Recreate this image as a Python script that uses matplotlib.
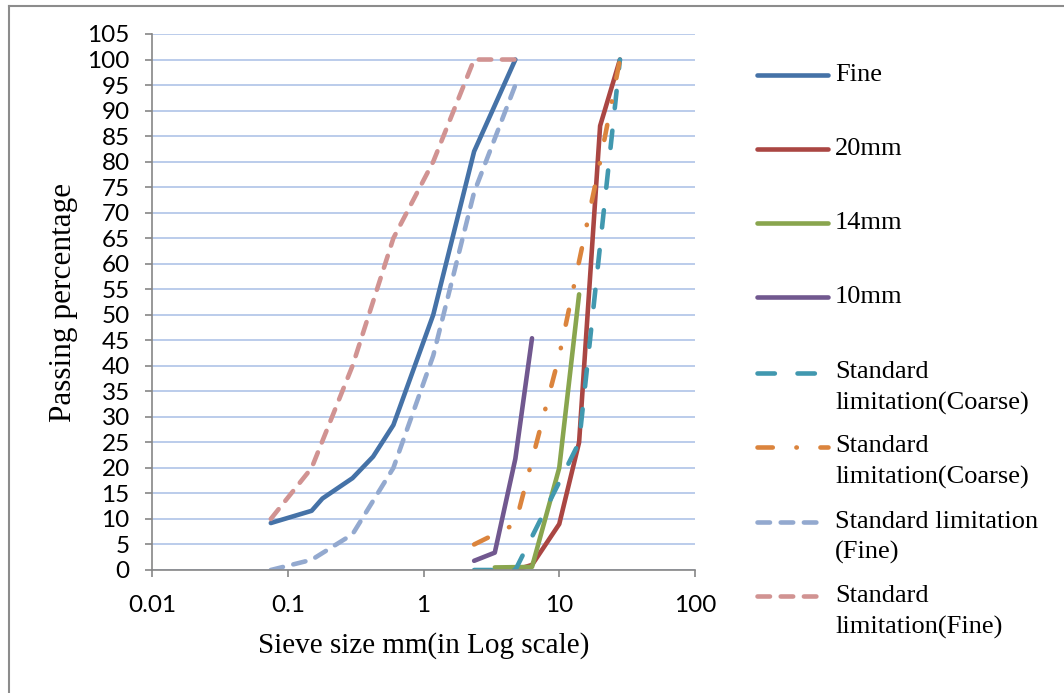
import matplotlib
matplotlib.use("Agg")
import matplotlib.pyplot as plt
import matplotlib.ticker as mticker
from matplotlib.lines import Line2D

# Sieve analysis results (sieve size in mm, % passing)
fine_size = [0.075, 0.15, 0.18, 0.3, 0.425, 0.6, 1.18, 2.36, 4.75]
fine_pass = [9.2, 11.6, 14.0, 18.0, 22.2, 28.4, 50.0, 82.0, 100.0]

agg20_size = [4.75, 6.3, 10, 14, 20, 28]
agg20_pass = [0.0, 1.0, 9.0, 25.0, 87.0, 100.0]

agg14_size = [3.35, 6.3, 10, 14]
agg14_pass = [0.5, 0.6, 20.0, 54.0]

agg10_size = [2.36, 3.35, 4.75, 6.3]
agg10_pass = [1.8, 3.4, 21.8, 45.4]

# Grading envelopes
coarse_low_size = [2.36, 4.75, 14, 28]
coarse_low_pass = [0.0, 0.0, 25.0, 100.0]

coarse_up_size = [2.36, 4.75, 10, 20, 28]
coarse_up_pass = [5.0, 9.0, 42.0, 80.0, 100.0]

fine_low_size = [0.075, 0.15, 0.3, 0.6, 1.18, 2.36, 4.75]
fine_low_pass = [0.0, 2.0, 7.0, 20.0, 42.0, 74.0, 95.0]

fine_up_size = [0.075, 0.15, 0.3, 0.6, 1.18, 2.36, 4.75]
fine_up_pass = [10.0, 20.0, 40.0, 65.0, 80.0, 100.0, 100.0]

plt.rcParams["lines.scale_dashes"] = False

W, H = 1064, 693
fig = plt.figure(figsize=(W / 100, H / 100), dpi=100)
ax = fig.add_axes([152 / W, 1 - 570 / H, (695 - 152) / W, (570 - 34) / H])

LW = 3.3
styles = [
    # (x, y, label, color, dashes)
    (fine_size, fine_pass, "Fine", "#4572A7", None),
    (agg20_size, agg20_pass, "20mm", "#AA4643", None),
    (agg14_size, agg14_pass, "14mm", "#89A54E", None),
    (agg10_size, agg10_pass, "10mm", "#71588F", None),
    (coarse_low_size, coarse_low_pass, "Standard\nlimitation(Coarse)", "#4198AF", (12.5, 16.3)),
    (coarse_up_size, coarse_up_pass, "Standard\nlimitation(Coarse)", "#DB843D", (11, 17, 0.3, 17)),
    (fine_low_size, fine_low_pass, "Standard limitation\n(Fine)", "#93A9CF", (9, 7.7)),
    (fine_up_size, fine_up_pass, "Standard\nlimitation(Fine)", "#D19392", (9, 7.7)),
]

for xs, ys, label, color, dashes in styles:
    line, = ax.plot(xs, ys, color=color, lw=LW, solid_capstyle="round",
                    dash_capstyle="round", solid_joinstyle="round")
    if dashes is not None:
        line.set_dashes(dashes)

# Axes and grid
ax.set_xscale("log")
ax.set_xlim(0.01, 100)
ax.set_ylim(0, 105)
ax.set_yticks(range(0, 106, 5))
ax.xaxis.set_major_locator(mticker.FixedLocator([0.01, 0.1, 1, 10, 100]))
ax.xaxis.set_minor_locator(mticker.NullLocator())
ax.xaxis.set_major_formatter(mticker.FuncFormatter(lambda v, _: f"{v:g}"))
ax.yaxis.grid(True, color="#A8BFE6", lw=1.1)
ax.set_axisbelow(True)
for side in ["top", "right"]:
    ax.spines[side].set_visible(False)
for side in ["left", "bottom"]:
    ax.spines[side].set_color("#868686")
    ax.spines[side].set_linewidth(1.2)
ax.tick_params(axis="both", direction="out", length=5, width=1.2, color="#868686",
               labelsize=17.5, labelcolor="black")
ax.tick_params(axis="y", pad=11)
ax.tick_params(axis="x", pad=13)
for lbl in ax.get_xticklabels() + ax.get_yticklabels():
    lbl.set_fontfamily("Lato")

ax.set_xlabel("Sieve size mm(in Log scale)", fontfamily="Liberation Serif",
              fontsize=21, va="center")
ax.xaxis.set_label_coords(0.5, (570 - 646) / 536)
ax.set_ylabel("Passing percentage", fontfamily="Liberation Serif",
              fontsize=22.5, va="center", ha="center")
ax.yaxis.set_label_coords((64 - 152) / 543, 0.5)

# Legend on the right
entry_y = [75, 149, 223, 297, 372.5, 446.5, 521.5, 596]
for (xs, ys, label, color, dashes), y in zip(styles, entry_y):
    yf = 1 - y / H
    x_end = 828 if dashes is None or len(dashes) > 2 else 822
    handle = Line2D([757 / W, x_end / W], [yf, yf], transform=fig.transFigure,
                    color=color, lw=LW, solid_capstyle="round", dash_capstyle="round")
    if dashes is not None:
        handle.set_dashes(dashes)
    fig.add_artist(handle)
    for i, part in enumerate(label.split("\n")):
        fig.text(835 / W, 1 - (y + 31 * i) / H, part, fontfamily="Liberation Serif",
                 fontsize=19, va="center", ha="left")

# Chart frame (left and top edges)
frame_x, frame_y = 8.5 / W, 1 - 5.5 / H
fig.add_artist(Line2D([frame_x, frame_x], [0, frame_y], transform=fig.transFigure,
                      color="#8C8C8C", lw=1.5))
fig.add_artist(Line2D([frame_x, 1], [frame_y, frame_y], transform=fig.transFigure,
                      color="#8C8C8C", lw=1.5))

fig.savefig("out.png", dpi=100)
